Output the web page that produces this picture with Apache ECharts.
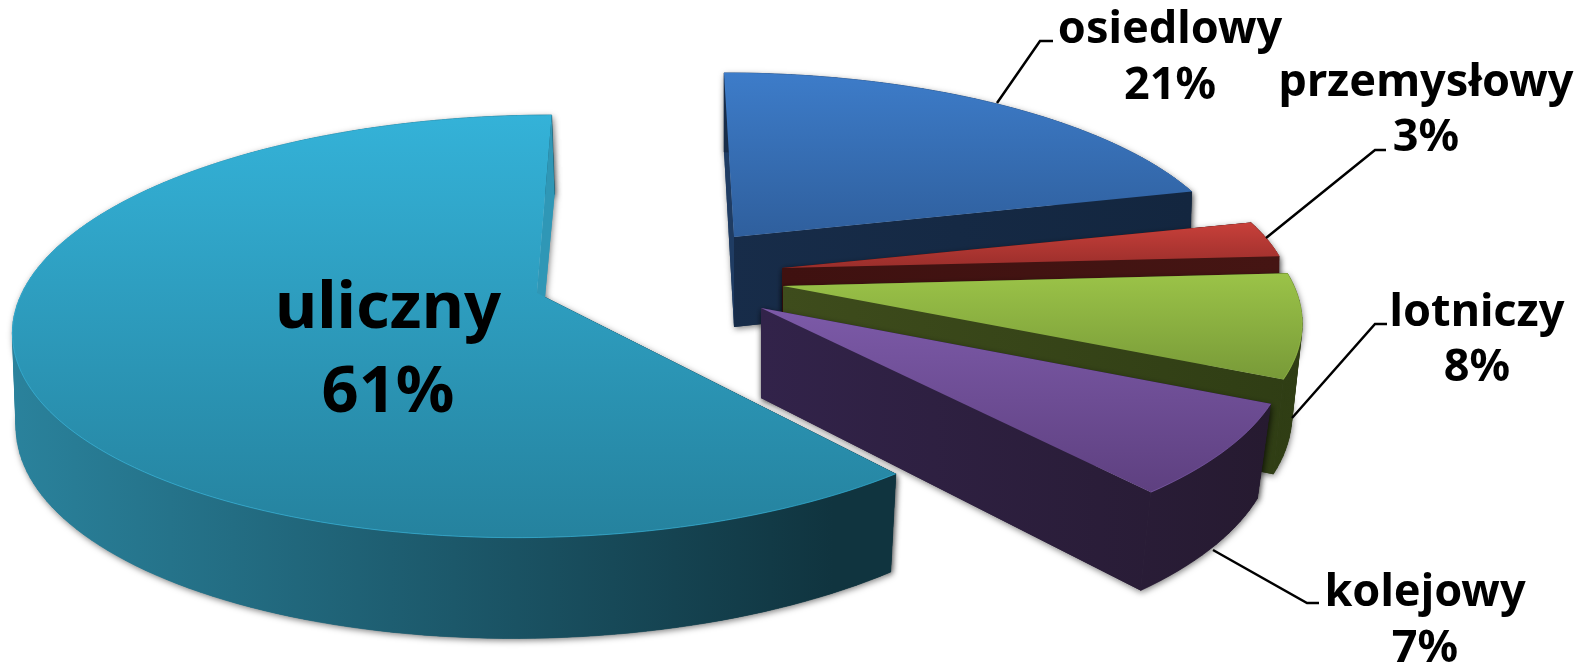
<!DOCTYPE html>
<html><head><meta charset="utf-8">
<style>html,body{margin:0;padding:0;background:#fff}#c{width:1577px;height:662px}</style>
<script src="https://cdn.jsdelivr.net/npm/echarts@6/dist/echarts.min.js"></script>
</head><body><div id="c"></div>
<script>
// Data
const categories = ['osiedlowy','przemysłowy','lotniczy','kolejowy','uliczny'];
const shares = [21,3,8,7,61];
// Look of each slice (apex = exploded slice centre on the page, R/S = disc radii, sh = shear, m = wall convergence)
const apexes = [[734,237],[782,268],[783,286],[761,308],[537,293]];
const discR = [494,503,511,518,515];
const discS = [190,190,205,210,206];
const discShear = [11.6,0,10,15.7,-17];
const wallConverge = [.005,.002,.02,.026,.008];
const wallShear = [0,0,0,0,-3];
const faceColors = [['#3d7cc9','#2f5f9d'],['#c8403a','#9a2e2b'],['#9bc348','#789a38'],['#7c5aa8','#5e4080'],['#34b2d8','#25829e']];
const wallColors = [['#172c49','#13263f'],['#3f1110','#451513'],['#3e4c1c','#2f3d14'],['#32234a','#261a30'],['#2a829c','#10343f']];
const backWallColors = ['#1f3c63',null,null,null,'#2f97b6'];
const labelCenter = [1170,1426,1477,1425,388];
const labelBaseline = [43,96,326,606,328];
const labelSize = [45,45,45,45,65];
const labelGap = [56,55,55,56,84];
const leaders = [[[997,103],[1040,41],[1053,41]],[[1266,238],[1375,150],[1386,150]],[[1292,418],[1375,324],[1387,324]],[[1213,550],[1307,603],[1319,603]],null];

const k = 0.158;
function project(i, deg, radius, depth){
  const a = deg*Math.PI/180, u = Math.sin(a)*radius, v = -Math.cos(a)*radius, d = 1-k*v;
  const dx = (discR[i]*u + discShear[i]*v)/d, dy = discS[i]*v/d;
  if(!depth) return [apexes[i][0]+dx, apexes[i][1]+dy];
  return [apexes[i][0]+dx*(1-wallConverge[i])+wallShear[i]*v, apexes[i][1]+dy+90*(1+.12*v)];
}
function grad(x,y,x2,y2,c){return {type:'linear',global:true,x,y,x2,y2,colorStops:[{offset:0,color:c[0]},{offset:1,color:c[1]}]};}
const starts = []; shares.reduce((s,v,i)=>{starts[i]=s;return s+v;},0);
const shadow = {shadowBlur:6,shadowColor:'rgba(0,0,0,.5)',shadowOffsetX:1,shadowOffsetY:2};

function renderItem(params){
  const i = params.dataIndex;
  const from = starts[i]*3.6, to = (starts[i]+shares[i])*3.6;
  const top=[], bot=[];
  const n = Math.max(8,Math.round((to-from)/1.5));
  for(let j=0;j<=n;j++){const d=from+(to-from)*j/n; top.push(project(i,d,1,false)); bot.push(project(i,d,1,true));}
  const A=project(i,0,0,false), B=project(i,0,0,true);
  const xs=top.concat(bot,[A]).map(p=>p[0]), ys=top.concat([A]).map(p=>p[1]);
  const x0=Math.min(...xs), x1=Math.max(...xs), y0=Math.min(...ys), y1=Math.max(...ys);
  const wf=grad(x0,0,x1*(i==4?.93:1),0,wallColors[i]);
  const fromFill = (from===0 && backWallColors[i]) || wf;
  const toFill = (to===360 && backWallColors[i]) || wf;
  const children=[];
  // soft shadow of the whole extruded body
  [[[A,top[0],bot[0],B],fromFill],[top.concat(bot.slice().reverse()),wf],[[A,top[n],bot[n],B],toFill]]
    .forEach(w=>children.push({type:'polygon',shape:{points:w[0]},style:Object.assign({fill:w[1]},shadow)}));
  // clean walls: start wall, swept quads of the rim, end wall
  children.push({type:'polygon',shape:{points:[A,top[0],bot[0],B]},style:{fill:fromFill}});
  for(let j=0;j<n;j++){
    children.push({type:'polygon',shape:{points:[top[j],top[j+1],bot[j+1],bot[j]]},style:{fill:wf,stroke:wf,lineWidth:.6}});
  }
  children.push({type:'polygon',shape:{points:[A,top[n],bot[n],B]},style:{fill:toFill}});
  children.push({type:'polygon',shape:{points:[A].concat(top)},style:{fill:grad(0,y0,0,y1,faceColors[i])}});
  children.push({type:'polyline',shape:{points:top},style:{fill:null,stroke:faceColors[i][0],lineWidth:1,opacity:.7}});
  return {type:'group',children};
}
const labelItems = categories.map((c,i)=>{
  const s=labelSize[i], font='bold '+s+'px "Noto Sans"', topY=labelBaseline[i]-.79*s;
  const out=[
    {type:'text',silent:true,z:10,style:{x:labelCenter[i],y:topY,text:c,fill:'#000',font,align:'center',verticalAlign:'top'}},
    {type:'text',silent:true,z:10,style:{x:labelCenter[i],y:topY+labelGap[i],text:shares[i]+'%',fill:'#000',font,align:'center',verticalAlign:'top'}}
  ];
  if(leaders[i]) out.push({type:'polyline',silent:true,z:9,shape:{points:leaders[i]},style:{fill:null,stroke:'#000',lineWidth:2.5}});
  return out;
}).flat();

const chart = echarts.init(document.getElementById('c'),null,{renderer:'canvas',width:1577,height:662});
chart.setOption({
  animation:false,
  backgroundColor:'#fff',
  series:[{type:'custom',coordinateSystem:'none',silent:true,clip:false,
    data:shares.map((v,i)=>({name:categories[i],value:v})),
    renderItem}],
  graphic:{elements:labelItems}
});
</script></body></html>
